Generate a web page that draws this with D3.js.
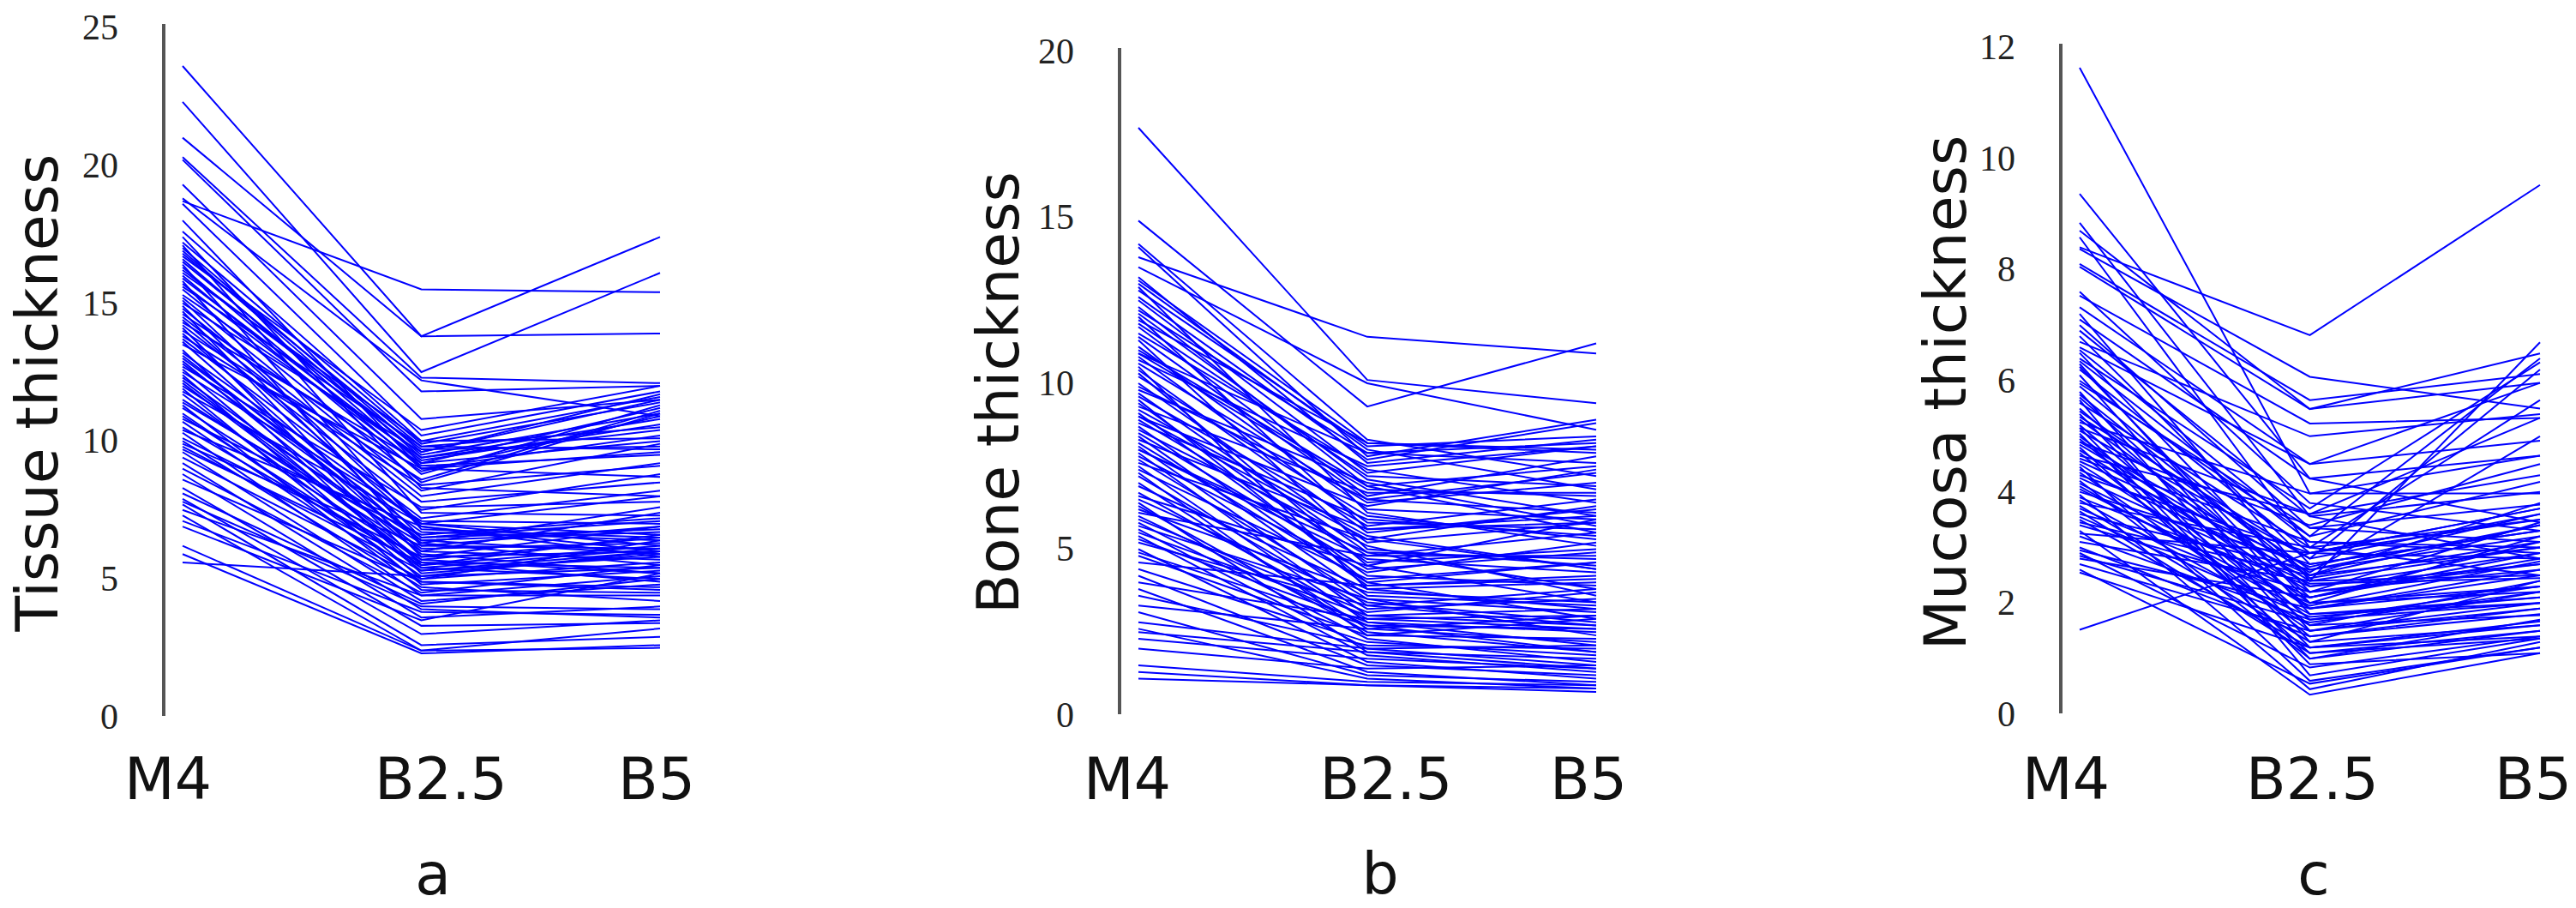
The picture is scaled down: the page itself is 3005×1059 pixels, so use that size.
<!DOCTYPE html>
<html>
<head>
<meta charset="utf-8">
<script src="https://cdn.jsdelivr.net/npm/d3@7/dist/d3.min.js"></script>
<style>
	body { margin: 0; background: #fff; }
	text { fill: #111; }
</style>
</head>
<body>
<svg id="chart" width="3005" height="1059"></svg>
<script>
// Measurement times (x categories)
var times = ['M4', 'B2.5', 'B5'];

// a: tissue thickness per subject
var tissueM4 = [23.6, 22.3, 21.0, 18.7, 20.3, 20.2, 19.3, 18.8, 18.6, 17.6,
	17.2, 17.0, 16.9, 16.8, 16.6, 16.5, 16.3, 16.2, 16.0, 15.9,
	15.7, 15.5, 15.3, 15.2, 15.0, 14.8, 14.6, 14.5, 14.3, 14.2,
	14.0, 13.7, 13.5, 13.2, 17.1, 16.4, 15.8, 15.1, 14.9, 14.7,
	14.4, 14.1, 13.9, 13.6, 13.3, 13.0, 12.9, 12.8, 12.6, 12.5,
	12.4, 12.3, 12.1, 12.0, 11.9, 11.7, 11.5, 11.3, 11.2, 11.0,
	10.8, 10.7, 10.5, 10.3, 10.1, 10.0, 9.8, 9.6, 9.4, 9.2,
	9.0, 8.8, 8.3, 8.1, 7.9, 7.7, 7.5, 7.3, 7.1, 6.9,
	6.2, 5.9, 5.6, 18.0, 17.4, 16.7, 13.8, 12.7, 11.8, 11.4,
	10.9, 10.4, 9.9, 9.7, 8.6, 7.8, 12.2, 13.1, 16.1, 15.6];
var tissueB25 = [13.8, 12.5, 13.8, 15.5, 12.3, 11.8, 10.8, 12.2, 10.2, 10.0,
	9.9, 9.6, 9.4, 9.8, 9.2, 9.5, 9.0, 9.7, 8.8, 9.3,
	9.1, 8.5, 9.4, 8.2, 9.6, 8.0, 8.9, 7.8, 9.2, 7.5,
	8.6, 7.2, 9.0, 7.0, 7.4, 6.8, 6.2, 7.0, 6.5, 5.8,
	6.9, 5.5, 6.3, 6.0, 5.2, 6.7, 5.9, 6.5, 5.4, 7.1,
	5.0, 6.1, 5.6, 6.4, 4.8, 5.3, 6.0, 4.6, 5.7, 5.1,
	6.6, 4.9, 5.5, 4.4, 5.8, 4.7, 5.3, 4.2, 5.0, 3.9,
	4.5, 3.6, 3.3, 4.1, 3.0, 2.6, 4.4, 2.4, 3.8, 3.5,
	2.4, 2.3, 5.1, 9.0, 8.3, 10.4, 8.4, 7.6, 7.0, 6.3,
	5.4, 6.9, 6.2, 5.6, 4.9, 4.0, 5.7, 6.4, 10.0, 9.8];
var tissueB5 = [17.4, 16.1, 13.9, 15.4, 12.1, 12.0, 11.5, 10.9, 11.8, 11.6,
	11.4, 11.7, 10.8, 10.5, 11.2, 11.0, 10.2, 9.8, 11.3, 10.6,
	9.5, 11.0, 10.4, 9.9, 11.5, 9.2, 10.9, 8.5, 10.0, 8.8,
	11.1, 8.2, 9.6, 8.0, 7.3, 6.5, 6.9, 6.2, 7.1, 6.0,
	5.8, 6.6, 5.5, 7.4, 5.9, 6.4, 5.2, 6.8, 6.1, 7.0,
	5.6, 6.3, 4.9, 6.7, 5.3, 6.0, 5.7, 4.5, 6.5, 5.4,
	7.2, 4.6, 6.2, 5.1, 6.9, 4.2, 5.8, 4.8, 6.4, 3.6,
	5.5, 4.0, 3.4, 5.0, 3.5, 2.9, 4.4, 3.2, 3.7, 5.2,
	2.5, 2.6, 6.0, 8.7, 8.0, 12.0, 9.1, 7.8, 6.6, 7.6,
	5.0, 6.0, 6.1, 5.4, 4.7, 3.9, 5.2, 5.9, 10.1, 9.7];

// b: bone thickness per subject
var boneM4 = [17.7, 14.9, 13.8, 14.2, 14.1, 13.2, 13.0, 12.5, 12.3, 12.1,
	11.7, 11.5, 11.1, 10.9, 10.8, 10.6, 10.4, 10.2, 10.0, 9.9,
	9.7, 9.6, 9.4, 9.2, 9.1, 9.0, 8.9, 8.7, 8.6, 8.5,
	8.4, 8.3, 8.2, 8.1, 8.0, 7.9, 7.8, 7.7, 7.5, 7.4,
	7.2, 7.0, 6.9, 6.7, 6.5, 6.3, 6.2, 6.0, 5.9, 5.8,
	5.7, 5.6, 5.5, 5.4, 5.3, 5.0, 4.8, 4.6, 4.4, 4.2,
	4.0, 3.8, 3.6, 3.3, 3.1, 2.8, 2.6, 2.5, 2.3, 2.0,
	1.5, 1.3, 1.1, 11.9, 12.8, 10.7, 9.8, 9.3, 8.8, 11.3,
	12.9, 10.3, 7.6, 6.6, 6.1, 5.2, 4.9, 13.5, 12.2, 9.5,
	7.3, 6.4, 11.0, 8.0, 10.5, 13.1, 12.6, 11.8, 11.4, 10.9,
	12.0, 9.0];
var boneB25 = [10.1, 9.3, 11.4, 8.3, 7.8, 7.6, 8.0, 7.3, 6.9, 7.1,
	6.6, 7.4, 6.2, 6.8, 5.8, 6.4, 5.5, 6.0, 5.2, 6.5,
	4.9, 5.7, 4.6, 5.4, 4.2, 6.3, 4.8, 3.9, 5.1, 4.4,
	3.6, 5.6, 4.0, 3.3, 4.7, 3.0, 4.3, 3.5, 2.8, 4.1,
	3.2, 2.6, 3.8, 2.9, 3.4, 2.5, 3.7, 2.7, 3.1, 2.3,
	3.5, 2.0, 3.0, 1.8, 2.8, 1.6, 2.4, 3.9, 2.2, 1.5,
	2.9, 1.3, 2.1, 2.6, 1.2, 2.0, 1.1, 1.9, 1.7, 1.4,
	1.0, 0.9, 0.9, 8.2, 8.1, 7.5, 7.0, 6.7, 5.9, 5.0,
	6.1, 4.5, 5.3, 4.5, 4.8, 3.3, 2.7, 10.0, 7.9, 4.0,
	2.4, 1.9, 6.9, 4.9, 3.8, 8.2, 7.7, 7.2, 6.5, 7.9,
	5.6, 5.3];
var boneB5 = [9.4, 11.2, 10.9, 7.2, 8.9, 8.3, 6.8, 8.1, 7.5, 6.0,
	7.8, 6.4, 5.9, 6.6, 5.6, 7.0, 6.2, 5.3, 5.8, 6.1,
	4.7, 6.5, 5.0, 4.4, 3.9, 7.4, 5.5, 4.1, 3.6, 4.9,
	3.3, 6.0, 2.9, 3.8, 4.3, 2.7, 5.2, 3.1, 2.5, 4.6,
	3.5, 2.2, 4.0, 3.0, 2.8, 1.9, 3.4, 2.6, 3.7, 1.6,
	2.4, 1.5, 3.2, 1.3, 2.1, 1.1, 2.3, 4.2, 1.8, 1.2,
	2.6, 0.9, 2.0, 3.0, 1.0, 2.1, 0.8, 1.7, 1.4, 1.5,
	0.9, 0.8, 0.7, 8.0, 8.4, 8.1, 5.7, 6.7, 5.4, 4.5,
	5.1, 3.4, 6.3, 5.9, 4.8, 2.7, 1.9, 8.6, 7.6, 4.6,
	2.9, 1.4, 5.5, 3.8, 3.2, 7.9, 8.8, 6.9, 7.3, 8.2,
	5.8, 4.4];

// c: mucosa thickness per subject
var mucosaM4 = [11.63, 8.4, 1.52, 9.36, 8.84, 8.58, 8.37, 8.1, 8.05, 7.53,
	7.32, 7.2, 7.0, 6.8, 6.6, 6.5, 6.4, 6.3, 6.2, 6.1,
	6.0, 5.9, 5.8, 5.7, 5.6, 5.5, 5.45, 5.4, 5.3, 5.25,
	5.2, 5.1, 5.05, 5.0, 4.95, 4.9, 4.85, 4.8, 4.75, 4.7,
	4.6, 4.5, 4.45, 4.4, 4.35, 4.3, 4.2, 4.15, 4.1, 4.0,
	3.95, 3.9, 3.85, 3.8, 3.75, 3.7, 3.6, 3.5, 3.4, 3.3,
	3.2, 3.1, 3.0, 2.95, 2.9, 2.8, 2.7, 2.6, 2.55, 6.7,
	7.1, 6.9, 6.25, 5.95, 5.65, 5.35, 5.15, 4.65, 4.25, 3.65,
	3.45, 8.7, 7.6, 6.35, 5.75, 5.15, 4.55, 4.05, 3.55, 3.25,
	2.85, 6.55, 4.9];
var mucosaB25 = [3.97, 6.82, 2.9, 4.24, 3.56, 3.0, 6.07, 5.65, 5.49, 5.23,
	4.5, 2.4, 3.35, 2.7, 4.5, 2.2, 3.7, 1.8, 2.9, 1.5,
	3.2, 2.5, 1.3, 2.1, 3.0, 1.9, 2.6, 1.2, 2.3, 3.97,
	1.7, 2.8, 0.9, 2.0, 1.6, 3.4, 2.4, 1.1, 2.2, 1.4,
	3.1, 1.9, 0.6, 2.5, 1.5, 2.9, 1.0, 2.1, 1.8, 2.7,
	0.45, 2.3, 1.6, 3.0, 1.3, 2.0, 2.6, 1.2, 2.2, 0.35,
	1.7, 2.4, 1.4, 1.9, 0.84, 2.1, 1.5, 0.55, 1.2, 5.0,
	4.24, 3.56, 2.0, 3.35, 0.7, 2.8, 1.0, 3.6, 2.35, 1.1,
	2.5, 5.49, 3.8, 3.1, 2.45, 3.6, 2.65, 1.95, 1.75, 2.9,
	1.65, 3.2, 2.55];
var mucosaB5 = [4.65, 9.52, 3.5, 3.45, 2.8, 2.5, 5.5, 6.12, 6.49, 5.33,
	5.96, 6.69, 3.1, 3.3, 4.92, 2.6, 6.33, 2.1, 3.7, 1.9,
	4.18, 3.0, 1.6, 2.9, 5.65, 2.3, 3.4, 1.4, 2.7, 3.97,
	2.0, 3.6, 1.1, 3.2, 2.4, 4.5, 2.5, 1.36, 3.45, 1.8,
	3.0, 2.6, 1.2, 3.8, 2.2, 2.8, 1.5, 3.1, 2.0, 3.3,
	1.3, 2.9, 1.78, 3.5, 2.4, 2.2, 3.2, 1.67, 2.7, 1.1,
	2.3, 3.0, 1.9, 2.5, 1.4, 2.8, 2.0, 1.2, 1.6, 5.4,
	4.65, 4.0, 2.3, 3.77, 1.36, 6.2, 1.7, 5.33, 2.45, 1.5,
	3.4, 5.96, 3.3, 2.9, 3.1, 4.3, 3.6, 2.75, 2.1, 3.7,
	2.2, 6.4, 5.0];

// Y axis titles, tick steps and panel letters
var titles = ['Tissue thickness', 'Bone thickness', 'Mucosa thickness'];
var yMax = [25, 20, 12];
var yStep = [5, 5, 2];
var letters = ['a', 'b', 'c'];

var svg = d3.select('#chart');
svg.append('rect').attr('width', 3005).attr('height', 1059).attr('fill', '#fff');

// Layout of each panel (pixel frame, label nudges)
var frames = [
	{ x0: 213, x1: 770, y0: 836, y1: 32, title: 67, letter: 505, nudge: [-17, 23, -4] },
	{ x0: 1328, x1: 1862, y0: 834, y1: 60, title: 1188, letter: 1610, nudge: [-13, 22, -9] },
	{ x0: 2426, x1: 2963, y0: 833, y1: 55, title: 2293, letter: 2699, nudge: [-16, 3, -8] }
];

panel(0, tissueM4, tissueB25, tissueB5);
panel(1, boneM4, boneB25, boneB5);
panel(2, mucosaM4, mucosaB25, mucosaB5);

/** Draw one spaghetti panel */
function panel(k, m4, b25, b5) {
	var f = frames[k];
	var rows = m4.map((v, i) => [v, b25[i], b5[i]]);
	var x = d3.scalePoint().domain(times).range([f.x0, f.x1]);
	var y = d3.scaleLinear().domain([0, yMax[k]]).range([f.y0, f.y1]);
	var g = svg.append('g');

	// Vertical axis with serif labels, no ticks
	var axis = g.append('g')
		.attr('transform', 'translate(' + (f.x0 - 22) + ',0)')
		.call(d3.axisLeft(y).tickValues(d3.range(0, yMax[k] + 1, yStep[k]))
			.tickSize(0).tickPadding(53).tickFormat(d3.format('d')));
	axis.select('.domain')
		.attr('d', 'M0,' + (f.y0 - 1) + 'V' + (f.y1 - 4))
		.style('stroke', '#555').style('stroke-width', 4);
	axis.selectAll('text')
		.style('font-family', '"Liberation Serif", "Times New Roman", serif')
		.style('font-size', '42px').style('fill', '#222');

	// One polyline per subject
	var line = d3.line().x((d, i) => x(times[i])).y(d => y(d));
	g.selectAll('path.subject').data(rows).enter().append('path')
		.attr('class', 'subject')
		.attr('d', line)
		.style('fill', 'none').style('stroke', '#0000ff').style('stroke-width', 2);

	// Time labels under the plot
	g.selectAll('text.time').data(times).enter().append('text')
		.attr('class', 'time')
		.attr('x', (t, i) => x(t) + f.nudge[i]).attr('y', 932)
		.attr('text-anchor', 'middle')
		.style('font-family', '"DejaVu Sans", Verdana, sans-serif').style('font-size', '68px')
		.text(t => t);

	// Rotated y title
	g.append('text')
		.attr('transform', 'translate(' + f.title + ',458) rotate(-90)')
		.attr('text-anchor', 'middle')
		.style('font-family', '"DejaVu Sans", Verdana, sans-serif').style('font-size', '68px')
		.text(titles[k]);

	// Panel letter
	g.append('text')
		.attr('x', f.letter).attr('y', 1043).attr('text-anchor', 'middle')
		.style('font-family', '"DejaVu Sans", Verdana, sans-serif').style('font-size', '68px')
		.text(letters[k]);
}
</script>
</body>
</html>
